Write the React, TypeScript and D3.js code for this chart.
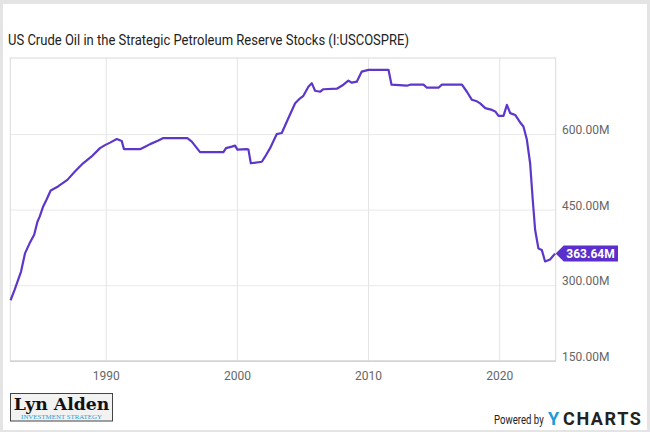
import React from "react";
import * as d3 from "d3";

const years: number[] = [
  1982.7, 1983.0, 1983.5, 1983.8, 1984.15, 1984.5, 1984.75, 1984.92, 1985.17, 1985.43,
  1985.76, 1986.32, 1987.03, 1987.59, 1988.23, 1988.86, 1989.52, 1989.9, 1990.29, 1990.8,
  1991.18, 1991.35, 1992.57, 1992.96, 1993.34, 1993.97, 1994.35, 1996.18, 1996.52, 1997.15,
  1998.93, 1999.13, 1999.57, 1999.82, 2000.0, 2000.71, 2000.84, 2001.02, 2001.86, 2002.11,
  2002.49, 2003.0, 2003.38, 2003.89, 2004.4, 2004.78, 2005.03, 2005.41, 2005.67, 2005.92,
  2006.3, 2006.56, 2007.58, 2008.08, 2008.46, 2008.72, 2009.1, 2009.48, 2009.99, 2011.52,
  2011.75, 2012.92, 2013.17, 2014.19, 2014.45, 2015.33, 2015.59, 2017.12, 2017.5, 2017.88,
  2018.26, 2018.51, 2018.9, 2019.41, 2019.66, 2019.91, 2020.29, 2020.55, 2020.8, 2021.18,
  2021.56, 2021.81, 2022.07, 2022.32, 2022.52, 2022.7, 2022.95, 2023.21, 2023.46, 2023.84,
  2024.22,
];

const stocks: number[] = [
  271, 291, 328, 364, 384, 401, 427, 437, 456, 470,
  489, 497, 510, 526, 543, 556, 573, 579, 584, 591,
  587, 571, 571, 576, 581, 588, 593, 593, 586, 565,
  565, 573, 576, 578, 570, 571, 570, 543, 546, 556,
  573, 601, 603, 633, 662, 672, 677, 695, 702, 687,
  685, 690, 691, 699, 707, 703, 705, 725, 728.5, 728.5,
  699, 697, 699, 699, 693, 693, 699, 699, 685, 669,
  666, 662, 652.5, 649, 646, 637, 637, 659, 642.5, 639,
  624, 616, 590, 543, 470, 411, 374, 371, 348, 352,
  363.64,
];

const xTicks: number[] = [1990, 2000, 2010, 2020];
const yTicks: number[] = [150, 300, 450, 600];
const lastLabel = "363.64M";
const title = "US Crude Oil in the Strategic Petroleum Reserve Stocks (I:USCOSPRE)";

const W = 650;
const H = 432;
const left = 10.3;
const right = 555.7;
const top = 58;
const bottom = 361.2;
const FONT = "Roboto, 'Noto Sans', sans-serif";
const LINE = "#5c37c9";

export default function App() {
  const x = d3.scaleLinear().domain([1982.68, 2024.27]).range([left, right]);
  const y = d3.scaleLinear().domain([150, 752]).range([bottom, top]);
  const pts = years.map((yr, i) => [yr, stocks[i]] as [number, number]);
  const line = d3
    .line<[number, number]>()
    .x((d) => x(d[0]))
    .y((d) => y(d[1]));
  const lastY = y(stocks[stocks.length - 1]);
  const tip = right;

  return (
    <svg
      width={W}
      height={H}
      style={{ position: "absolute", left: 0, top: 0 }}
      xmlns="http://www.w3.org/2000/svg"
    >
      <rect x={0} y={0} width={W} height={H} fill="#e4e4e4" />
      <rect x={3} y={4} width={W - 6} height={H - 6} fill="#ffffff" />
      <text
        x={8}
        y={45}
        fontFamily={FONT}
        fontSize={14}
        fill="#222"
        textLength={401}
        lengthAdjust="spacingAndGlyphs"
      >
        {title}
      </text>

      {/* grid */}
      {yTicks.map((t) => (
        <line key={"gy" + t} x1={left} x2={right} y1={y(t)} y2={y(t)} stroke="#e9e9e9" strokeWidth={1} />
      ))}
      {xTicks.map((t) => (
        <line key={"gx" + t} x1={x(t)} x2={x(t)} y1={top} y2={bottom} stroke="#e4e4e4" strokeWidth={1} />
      ))}
      <rect x={left} y={top} width={right - left} height={bottom - top} fill="none" stroke="#dadada" strokeWidth={1} />
      <line x1={left} x2={right} y1={bottom} y2={bottom} stroke="#cfcfcf" strokeWidth={1.2} />

      {/* line */}
      <path d={line(pts) || ""} fill="none" stroke={LINE} strokeWidth={2.2} strokeLinejoin="round" />

      {/* y tick labels */}
      {yTicks.map((t) => (
        <text key={"ty" + t} x={562} y={y(t) - 0.5} fontFamily={FONT} fontSize={12} fill="#666">
          {t.toFixed(2) + "M"}
        </text>
      ))}
      {/* x tick labels */}
      {xTicks.map((t) => (
        <text key={"tx" + t} x={x(t)} y={380} textAnchor="middle" fontFamily={FONT} fontSize={12} fill="#666">
          {t}
        </text>
      ))}

      {/* last value label */}
      <path
        d={`M${tip},${lastY} L${tip + 8},${lastY - 8} L${618},${lastY - 8} L${618},${lastY + 8} L${tip + 8},${lastY + 8} Z`}
        fill="#5a2fcb"
      />
      <text x={590.5} y={lastY + 4.3} textAnchor="middle" fontFamily={FONT} fontSize={12} fontWeight="bold" fill="#fff">
        {lastLabel}
      </text>

      {/* Lyn Alden logo */}
      <rect x={10.5} y={393.5} width={102} height={27.5} fill="#f2f2f2" stroke="#444" strokeWidth={1} />
      <text
        transform="translate(61.5,409.5) scale(1.08,1)"
        textAnchor="middle"
        fontFamily="'DejaVu Serif', 'Liberation Serif', serif"
        fontSize={16}
        fontWeight="bold"
        fill="#111"
      >
        Lyn Alden
      </text>
      <text
        transform="translate(61.5,419) scale(1.15,1)"
        textAnchor="middle"
        fontFamily="'Liberation Serif', serif"
        fontSize={6}
        fill="#2b9ad6"
      >
        INVESTMENT STRATEGY
      </text>

      {/* Powered by YCHARTS */}
      <text transform="translate(494,424) scale(0.8,1)" fontFamily={FONT} fontSize={12} fill="#222">
        Powered by
      </text>
      <text x={548} y={425} fontFamily={FONT} fontSize={18} fontWeight="bold" fill="#1e9ad8">
        Y
      </text>
      <text x={563} y={425} fontFamily={FONT} fontSize={18} fontWeight="bold" fill="#222" letterSpacing={1.6}>
        CHARTS
      </text>
    </svg>
  );
}
